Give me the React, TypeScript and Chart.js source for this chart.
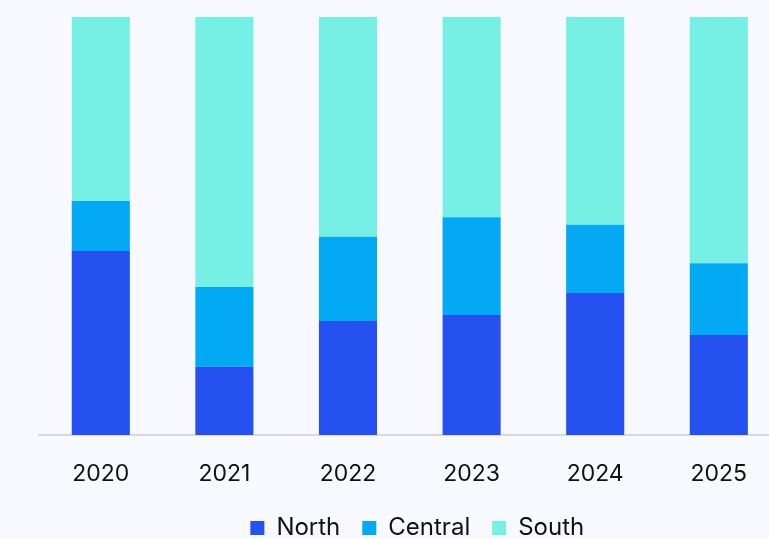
import React, { useEffect, useRef } from "react";
import { Chart, registerables } from "chart.js";

Chart.register(...registerables);

const categories = ["2020", "2021", "2022", "2023", "2024", "2025"];
const northValues = [44.0, 16.3, 27.3, 28.7, 34.0, 23.9];
const centralValues = [12.0, 19.1, 20.1, 23.4, 16.3, 17.2];
const southValues = [44.0, 64.6, 52.6, 47.9, 49.7, 58.9];
const seriesNames = ["North", "Central", "South"];
const seriesColors = ["#2451F0", "#03A9F2", "#76EFE5"];

const legendShift = {
  id: "legendShift",
  afterLayout(chart: any) {
    if (chart.legend) {
      chart.legend.left += 15;
    }
  },
};

export default function App() {
  const ref = useRef<HTMLCanvasElement>(null);
  useEffect(() => {
    document.body.style.margin = "0";
    document.body.style.background = "#F8F9FE";
    const ctx = ref.current!;
    const chart = new Chart(ctx, {
      type: "bar",
      data: {
        labels: categories,
        datasets: [northValues, centralValues, southValues].map((d, i) => ({
          label: seriesNames[i],
          data: d,
          backgroundColor: seriesColors[i],
          borderWidth: 0,
          barPercentage: 0.47,
          categoryPercentage: 1,
        })),
      },
      plugins: [legendShift],
      options: {
        animation: false,
        responsive: false,
        maintainAspectRatio: false,
        layout: { padding: { top: 17, left: 39, right: 9.4, bottom: 0 } },
        plugins: {
          tooltip: { enabled: false },
          legend: {
            position: "bottom",
            labels: {
              boxWidth: 14,
              boxHeight: 14,
              color: "#111111",
              font: { family: "Inter", size: 24 },
              padding: 22,
            },
          },
        },
        scales: {
          x: {
            stacked: true,
            grid: { display: false, drawTicks: false },
            border: { display: true, color: "#D9D9D9", width: 2 },
            ticks: {
              color: "#111111",
              font: { family: "Inter", size: 23 },
              padding: 25.5,
              maxRotation: 0,
            },
            afterFit: (scale: any) => {
              scale.height = 59;
            },
          },
          y: {
            stacked: true,
            display: false,
            min: 0,
            max: 100,
          },
        },
      },
    });
    return () => chart.destroy();
  }, []);
  return (
    <div
      style={{
        position: "fixed",
        left: 0,
        top: 0,
        width: 790,
        height: 550,
        background: "#F8F9FE",
      }}
    >
      <canvas ref={ref} width={790} height={550} style={{ display: "block" }} />
    </div>
  );
}
